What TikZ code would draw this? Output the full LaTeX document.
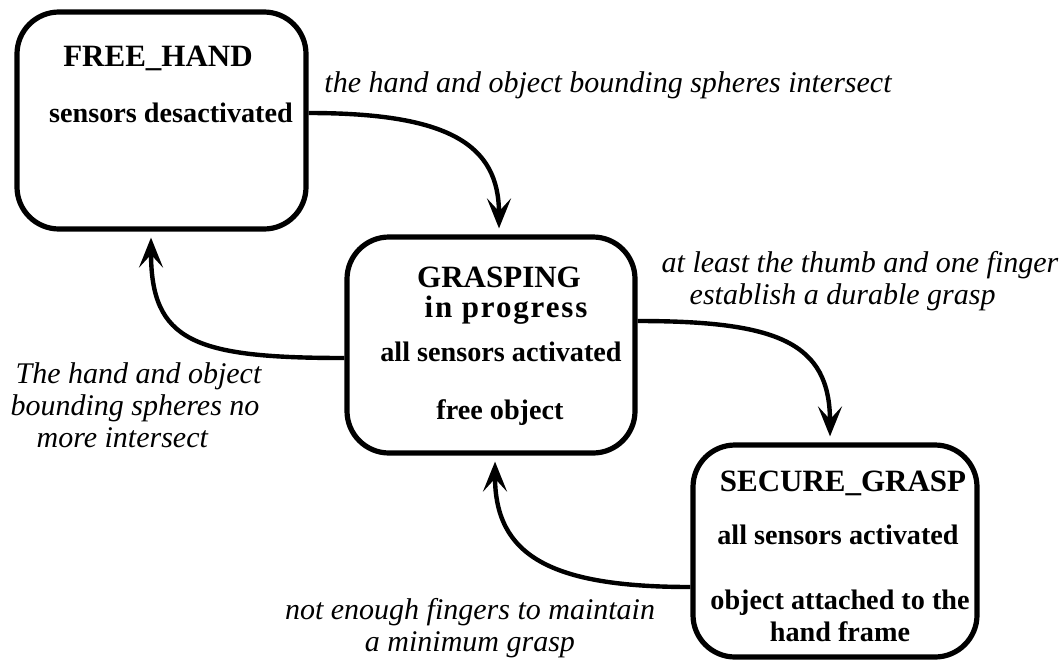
\documentclass[tikz,border=0pt]{standalone}
\usepackage{fontspec}
\setmainfont{Liberation Serif}
\usetikzlibrary{arrows.meta, positioning, calc}

\begin{document}
\begin{tikzpicture}[x=0.5pt, y=-0.5pt,
	state/.style={draw, line width=2.6pt, rounded corners=21pt, inner sep=0pt},
	title/.style={font=\fontsize{15.5}{16}\selectfont\bfseries, inner sep=0pt},
	info/.style={font=\fontsize{14.1}{16}\selectfont\bfseries, inner sep=0pt, align=center},
	cond/.style={font=\fontsize{15}{16}\selectfont\itshape, inner sep=0pt},
	flow/.style={line width=2.2pt, -{Stealth[length=15pt, width=12pt, inset=6.5pt, sep=3pt]}}]
			\useasboundingbox (0,0) rectangle (1064,659);

			% the three states
			\node[state, minimum width=144.5pt, minimum height=108.5pt] (free) at (161.5,120.5) {};
			\node[state, minimum width=144pt, minimum height=108pt] (grasp) at (491,345) {};
			\node[state, minimum width=142pt, minimum height=106pt] (secure) at (835,551) {};

			% FREE_HAND
			\node[title] (freeT) at (158,58) {FREE\_HAND};
			\node[info] (freeS) at (171,113) {sensors desactivated};

			% GRASPING in progress
			\node[title] (graspT) at (499,277) {GRASPING};
			\node[title] (graspP) at (506,310) {\addfontfeature{LetterSpace=6}in progress};
			\node[info] (graspS) at (501,352) {all sensors activated};
			\node[info] (graspO) at (500,413) {free object};

			% SECURE_GRASP
			\node[title] (secureT) at (843,483) {SECURE\_GRASP};
			\node[info] (secureS) at (838,535) {all sensors activated};
			\node[info] (secureO) at (840,616) {object attached to the\\hand frame};

			% transition conditions
			\node[cond] (inter) at (608,85) {the hand and object bounding spheres intersect};
			\node[cond, align=left] (durable) at (860,281) {at least the thumb and one finger\\\hspace*{14pt}establish a durable grasp};
			\node[cond, align=left] (apart) at (136,405) {\hspace*{2.5pt}The hand and object\\bounding spheres no\\\hspace*{13pt}more intersect};
			\node[cond, align=center] (lost) at (470,628) {not enough fingers to maintain\\a minimum grasp};

			% transitions
			\draw[flow] ([yshift=3.75pt]free.east) .. controls +(140,0) and +(0,-90) .. ([xshift=4pt]grasp.north);
			\draw[flow] ([yshift=-6.5pt]grasp.west) .. controls +(-150,0) and +(0,110) .. ([xshift=-5.25pt]free.south);
			\draw[flow] ([yshift=12pt]grasp.east) .. controls +(140,0) and +(0,-100) .. ([xshift=-2.5pt]secure.north);
			\draw[flow] ([yshift=-18pt]secure.west) .. controls +(-140,0) and +(0,100) .. ([xshift=2pt]grasp.south);
		\end{tikzpicture}
\end{document}
